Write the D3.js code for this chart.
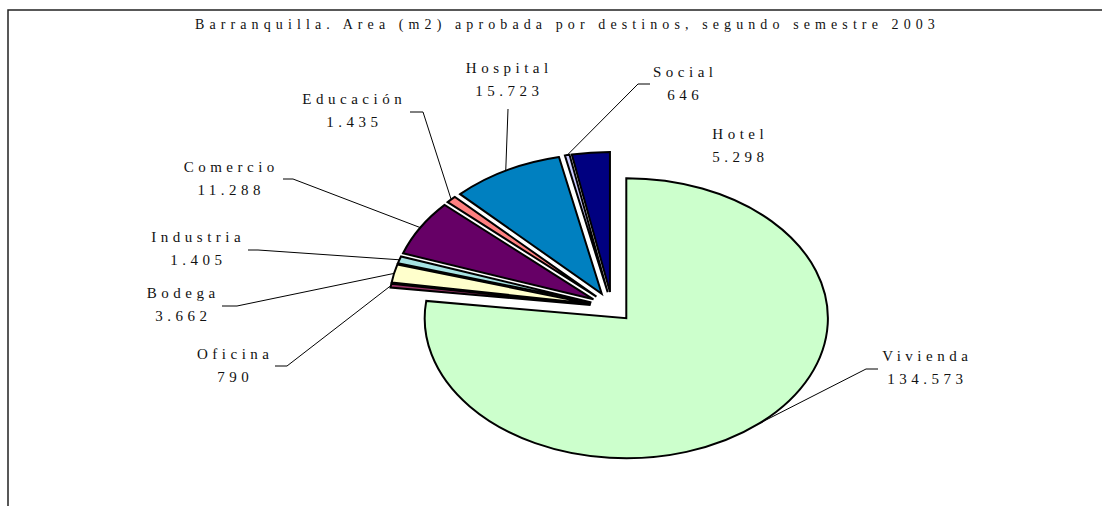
<!DOCTYPE html>
<html>
<head>
<meta charset="utf-8">
<script src="https://cdn.jsdelivr.net/npm/d3@7"></script>
<style>
  body { margin: 0; background: #fff; }
  text { font-family: "Liberation Serif", "Times New Roman", serif; font-size: 15px; fill: #111; letter-spacing: 4.5px; }
</style>
</head>
<body>
<svg id="chart" width="1102" height="506"></svg>
<script>
// data
const categories = ["Vivienda", "Oficina", "Bodega", "Industria", "Comercio", "Educación", "Hospital", "Social", "Hotel"];
const areas = [134573, 790, 3662, 1405, 11288, 1435, 15723, 646, 5298];
const sliceColors = ["#ccffcc", "#993366", "#ffffcc", "#a6e2e2", "#660066", "#ff8080", "#0080c0", "#ccccff", "#000080"];
const chartTitle = "Barranquilla. Area (m2) aprobada por destinos, segundo semestre 2003";

// label layout: text centre, baseline of first line, leader knee points
const labelLayout = [
  { x: 925, y: 361, knee: [[878, 369], [866, 369]] },
  { x: 233, y: 359, knee: [[275, 366], [287, 366]] },
  { x: 181, y: 298, knee: [[222, 306], [237, 306]] },
  { x: 196, y: 242, knee: [[248, 250], [258, 250]] },
  { x: 229, y: 172, knee: [[283, 179], [293, 179]] },
  { x: 352, y: 104, knee: [[410, 112], [423, 112]] },
  { x: 507, y: 73,  knee: [[508, 109]] },
  { x: 683, y: 77,  knee: [[650, 84], [638, 84]] },
  { x: 738, y: 139, knee: null }
];

const W = 1102, H = 506;
const cx = 612, cy = 307, radius = 140, stretch = 1.44, explode = 15;
const ls = 4.5;

const fmt = d3.formatLocale({ decimal: ",", thousands: ".", grouping: [3], currency: ["", ""] }).format(",");

const svg = d3.select("#chart");

// frame
svg.append("path")
  .attr("d", `M8,${H} L8,10 L${W},10`)
  .attr("fill", "none")
  .attr("stroke", "#222")
  .attr("stroke-width", 1.5);

svg.append("text")
  .attr("x", 565 + 2.5)
  .attr("y", 29)
  .attr("text-anchor", "middle")
  .style("font-size", "14px")
  .style("letter-spacing", "5.1px")
  .text(chartTitle);

const pieData = d3.pie().sort(null).value(d => d)(areas);
const arc = d3.arc().innerRadius(0).outerRadius(radius);

const pieG = svg.append("g")
  .attr("transform", `translate(${cx},${cy}) scale(${stretch},1)`);

pieG.selectAll("path")
  .data(pieData)
  .enter()
  .append("path")
  .attr("d", arc)
  .attr("transform", d => {
    let mid = (d.startAngle + d.endAngle) / 2;
    return `translate(${explode * Math.sin(mid)},${-explode * Math.cos(mid)})`;
  })
  .attr("fill", (d, i) => sliceColors[i])
  .attr("stroke", "#000")
  .attr("stroke-width", 2)
  .attr("stroke-linejoin", "miter")
  .attr("vector-effect", "non-scaling-stroke");

// screen point on a slice edge at its mid angle
function edgePoint(d) {
  let mid = (d.startAngle + d.endAngle) / 2;
  let r = radius + explode;
  return [cx + r * Math.sin(mid) * stretch, cy - r * Math.cos(mid)];
}

const labels = svg.append("g");

pieData.forEach((d, i) => {
  let lay = labelLayout[i];
  if (lay.knee) {
    let pts = lay.knee.concat([edgePoint(d)]);
    labels.append("path")
      .attr("d", d3.line()(pts))
      .attr("fill", "none")
      .attr("stroke", "#000")
      .attr("stroke-width", 1);
  }
  let t = labels.append("text")
    .attr("text-anchor", "middle")
    .attr("x", lay.x + ls / 2)
    .attr("y", lay.y);
  t.append("tspan").attr("x", lay.x + ls / 2).attr("dy", 0).text(categories[i]);
  t.append("tspan").attr("x", lay.x + ls / 2).attr("dy", 23).text(fmt(areas[i]));
});
</script>
</body>
</html>
